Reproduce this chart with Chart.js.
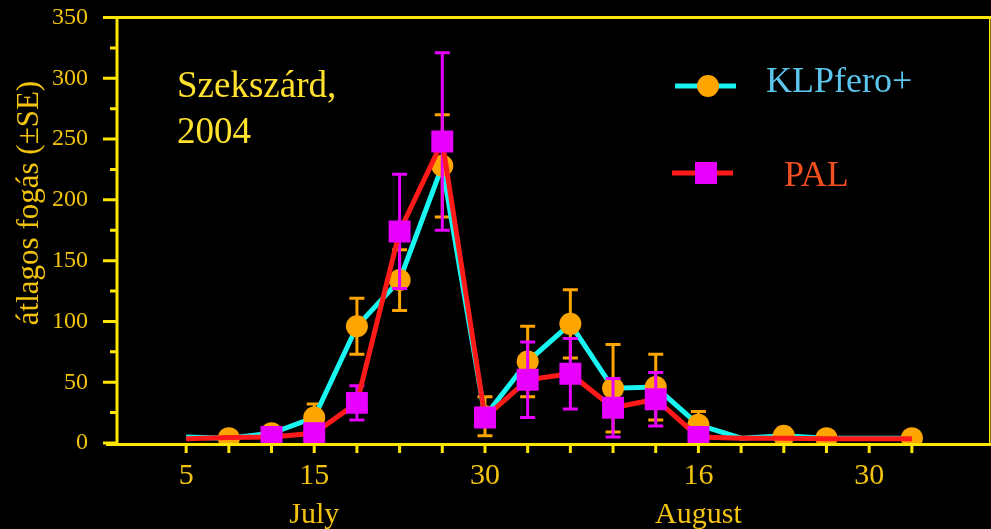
<!DOCTYPE html>
<html><head><meta charset="utf-8">
<script src="https://cdn.jsdelivr.net/npm/chart.js@4.4.1/dist/chart.umd.min.js"></script>
<style>html,body{margin:0;padding:0;background:#000;} #wrap{width:991px;height:529px;position:relative;}</style>
</head><body><div id="wrap"><canvas id="c"></canvas></div>
<script>
// ---- data ----
const categories = ['5','','',['15','July'],'','','','30','','','','',['16','August'],'','','','30',''];
const klpValues = [5,4,8,21,96,134,228,22,67,98,45,46,15,4,6,4,4,4];
const klpErrors = [0,0,0,11,23,25,42,16,29,28,36,27,11,0,0,0,0,0];
const palValues = [3.5,4.5,5,8,33,174,248,21,52,57,29,36,5,4,4,3.5,3.5,3.5];
const palErrors = [0,0,0,0,14,47,73,5,31,29,24,22,0,0,0,0,0,0];
const yTickLabels = [0,50,100,150,200,250,300,350];
const seriesNames = ['KLPfero+', 'PAL'];
const titleLines = ['Szekszárd,', '2004'];
const yTitle = 'átlagos fogás (±SE)';

const SERIF = "'Liberation Serif', 'Times New Roman', serif";
const AXIS = '#FFE600';
const TICKTXT = '#F2C40F';
Chart.defaults.font.family = SERIF;

const errorBars = {
  id: 'errorBars',
  beforeDatasetDraw(chart, args) {
    const ds = chart.data.datasets[args.index];
    const errs = ds.errors; if (!errs) return;
    const xs = chart.scales.x, ys = chart.scales.y, ctx = chart.ctx;
    ctx.save(); ctx.strokeStyle = ds.errorColor; ctx.lineWidth = 3;
    ds.data.forEach((p, i) => {
      const e = errs[i]; if (!e) return;
      const px = xs.getPixelForValue(p.x);
      const t = ys.getPixelForValue(p.y + e), b = ys.getPixelForValue(p.y - e);
      ctx.beginPath();
      ctx.moveTo(px, t); ctx.lineTo(px, b);
      ctx.moveTo(px - 7.5, t); ctx.lineTo(px + 7.5, t);
      ctx.moveTo(px - 7.5, b); ctx.lineTo(px + 7.5, b);
      ctx.stroke();
    });
    ctx.restore();
  }
};

const frame = {
  id: 'frame',
  beforeDatasetsDraw(chart) {
    const {ctx, chartArea: a} = chart;
    const xs = chart.scales.x, ys = chart.scales.y;
    ctx.save();
    ctx.strokeStyle = AXIS; ctx.lineWidth = 3; ctx.lineCap = 'butt';
    ctx.beginPath();
    ctx.moveTo(103, a.top); ctx.lineTo(991, a.top);
    ctx.moveTo(a.left, a.top - 1.5); ctx.lineTo(a.left, a.bottom);
    ctx.moveTo(106, a.bottom + 1.5); ctx.lineTo(991, a.bottom + 1.5);
    ctx.stroke();
    // y ticks
    ctx.beginPath();
    for (let v = 0; v <= 350; v += 25) {
      const py = ys.getPixelForValue(v);
      const major = yTickLabels.includes(v);
      ctx.moveTo(major ? 103 : 110, py); ctx.lineTo(a.left, py);
    }
    // x ticks
    for (let i = 0; i < categories.length; i++) {
      const px = xs.getPixelForValue(i);
      ctx.moveTo(px, a.bottom + 1.5); ctx.lineTo(px, a.bottom + 10);
    }
    ctx.stroke();
    ctx.lineWidth = 1.5;
    ctx.beginPath(); ctx.moveTo(a.right - 0.25, a.top); ctx.lineTo(a.right - 0.25, a.bottom + 1.5); ctx.stroke();
    ctx.restore();
  }
};

const texts = {
  id: 'texts',
  afterDraw(chart) {
    const ctx = chart.ctx;
    ctx.save();
    // title
    ctx.fillStyle = '#FFE12E';
    ctx.font = '37px ' + SERIF;
    ctx.textBaseline = 'alphabetic'; ctx.textAlign = 'left';
    ctx.fillText(titleLines[0], 177, 97);
    ctx.fillText(titleLines[1], 177, 143);
    // legend
    ctx.lineWidth = 5;
    ctx.strokeStyle = '#19F5F0';
    ctx.beginPath(); ctx.moveTo(675, 86); ctx.lineTo(736, 86); ctx.stroke();
    ctx.fillStyle = '#FFA500';
    ctx.beginPath(); ctx.arc(708, 86, 11, 0, Math.PI * 2); ctx.fill();
    ctx.strokeStyle = '#FF1A1A';
    ctx.beginPath(); ctx.moveTo(672, 173); ctx.lineTo(733, 173); ctx.stroke();
    ctx.fillStyle = '#E800FF';
    ctx.fillRect(695, 162, 22, 22);
    ctx.font = '36px ' + SERIF;
    ctx.fillStyle = '#5CC6EE';
    ctx.fillText(seriesNames[0], 766, 92);
    ctx.fillStyle = '#F2501E';
    ctx.fillText(seriesNames[1], 784, 186);
    // y title
    ctx.translate(38, 203);
    ctx.rotate(-Math.PI / 2);
    ctx.textAlign = 'center';
    ctx.fillStyle = TICKTXT;
    ctx.font = '31px ' + SERIF;
    ctx.fillText(yTitle, 0, 0);
    ctx.restore();
  }
};

const hiddenKlp = [0, 13, 16];
const noPad = s => { s.paddingTop = 0; s.paddingBottom = 0; s.paddingLeft = 0; s.paddingRight = 0; };

new Chart(document.getElementById('c'), {
  type: 'line',
  data: {
    datasets: [
      {
        label: seriesNames[0],
        data: klpValues.map((v, i) => ({x: i, y: v})),
        errors: klpErrors, errorColor: '#FFA500',
        borderColor: '#19F5F0', borderWidth: 5, tension: 0,
        pointStyle: 'circle',
        pointRadius: c => hiddenKlp.includes(c.dataIndex) ? 0 : 11,
        pointHoverRadius: c => hiddenKlp.includes(c.dataIndex) ? 0 : 11,
        pointBackgroundColor: '#FFA500', pointBorderWidth: 0,
        order: 1
      },
      {
        label: seriesNames[1],
        data: palValues.map((v, i) => ({x: i, y: v})),
        errors: palErrors, errorColor: '#E800FF',
        borderColor: '#FF1A1A', borderWidth: 5, tension: 0,
        pointStyle: 'rect',
        pointRadius: c => (c.dataIndex >= 2 && c.dataIndex <= 12) ? 15.5 : 0,
        pointHoverRadius: c => (c.dataIndex >= 2 && c.dataIndex <= 12) ? 15.5 : 0,
        pointBackgroundColor: '#E800FF', pointBorderWidth: 0,
        order: 0
      }
    ]
  },
  options: {
    responsive: true, maintainAspectRatio: false, animation: false,
    layout: {autoPadding: false, padding: {top: 17.5, right: 1, left: 0, bottom: 0}},
    plugins: {legend: {display: false}, tooltip: {enabled: false}},
    scales: {
      x: {
        type: 'linear', min: -1.62, max: 18.83,
        grid: {display: false}, border: {display: false},
        afterBuildTicks: s => { s.ticks = categories.map((c, i) => ({value: i})); },
        afterFit: s => { s.height = 86; noPad(s); },
        ticks: {
          autoSkip: false, maxRotation: 0, minRotation: 0, padding: 5.5,
          color: TICKTXT, font: {size: 30, lineHeight: 1.3},
          callback: (v, i) => categories[i]
        }
      },
      y: {
        type: 'linear', min: 0, max: 350,
        grid: {display: false}, border: {display: false},
        afterFit: s => { s.width = 117; noPad(s); },
        ticks: {
          stepSize: 25, autoSkip: false, padding: 21,
          color: TICKTXT, font: {size: 24},
          callback: v => yTickLabels.includes(v) ? String(v) : ''
        }
      }
    }
  },
  plugins: [frame, errorBars, texts]
});
</script>
</body></html>
